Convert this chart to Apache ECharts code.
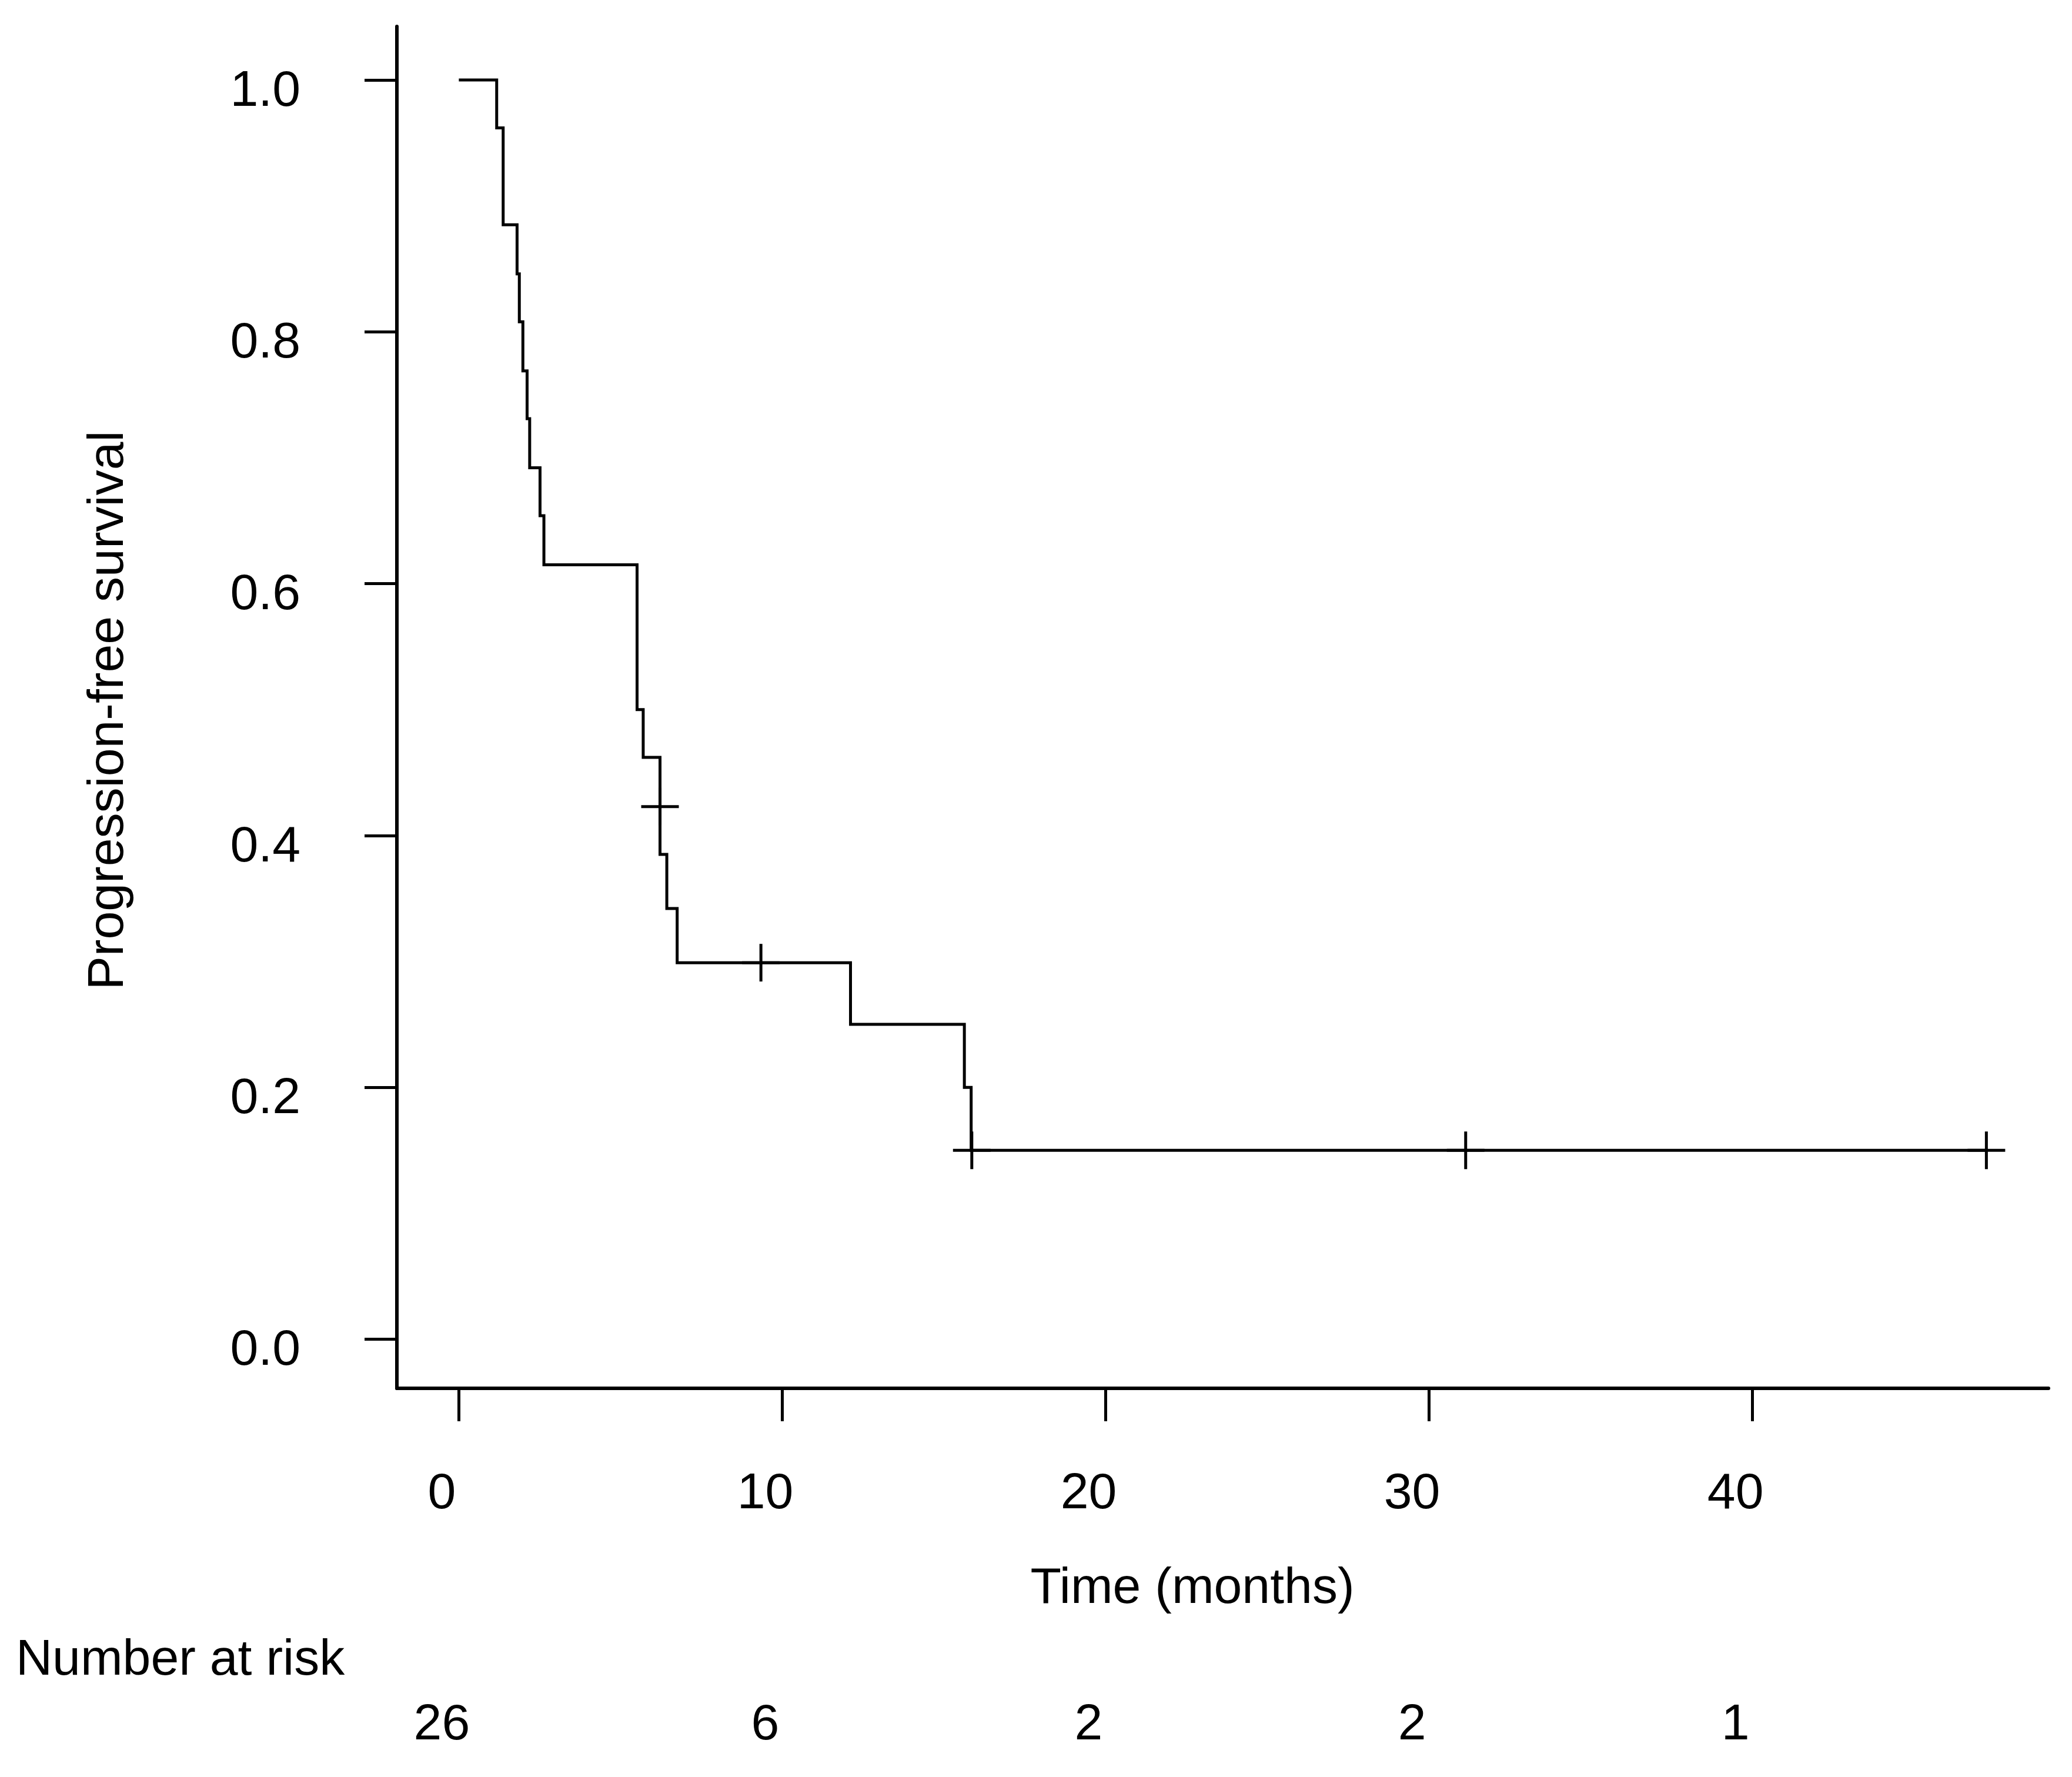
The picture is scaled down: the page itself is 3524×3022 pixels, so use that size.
<!DOCTYPE html>
<html>
<head>
<meta charset="utf-8">
<script src="https://cdn.jsdelivr.net/npm/echarts@6/dist/echarts.min.js"></script>
<style>
html,body{margin:0;padding:0;background:#fff;}
#chart{width:3524px;height:3022px;}
</style>
</head>
<body>
<div id="chart"></div>
<script>
// Kaplan-Meier step points (time in months, survival after the step)
const stepTimes = [0, 1.17, 1.37, 1.80, 1.87, 1.98, 2.11, 2.19, 2.51, 2.63, 5.51, 5.70, 6.22, 6.22, 6.43, 6.75, 12.11, 15.63, 15.84, 47.23];
const stepSurvival = [1.0, 0.962, 0.885, 0.846, 0.808, 0.769, 0.731, 0.692, 0.654, 0.615, 0.500, 0.462, 0.423, 0.385, 0.342, 0.299, 0.250, 0.200, 0.150, 0.150];
// Censored observations
const censorTimes = [6.22, 9.34, 15.86, 31.13, 47.23];
const censorSurvival = [0.423, 0.299, 0.150, 0.150, 0.150];
// Axis ticks
const xTicks = [0, 10, 20, 30, 40];
const yTicks = [0, 0.2, 0.4, 0.6, 0.8, 1.0];
// Number at risk
const riskTimes = [0, 10, 20, 30, 40];
const atRisk = [26, 6, 2, 2, 1];

const FONT = "'Liberation Sans', Arial, Helvetica, sans-serif";
const FS = 86;

const chart = echarts.init(document.getElementById('chart'), null, {renderer: 'canvas'});

const xMin = -1.916, xMax = 49.15;

const option = {
  backgroundColor: '#ffffff',
  animation: false,
  grid: {left: 675, right: 40, top: 45, bottom: 661, containLabel: false},
  xAxis: [
    {
      type: 'value', min: xMin, max: xMax,
      axisLine: {show: true, onZero: false, lineStyle: {color: '#000', width: 6}},
      axisTick: {show: true, customValues: xTicks, length: 56, lineStyle: {color: '#000', width: 5}},
      axisLabel: {show: true, customValues: xTicks, margin: 137, color: '#000', fontSize: FS, fontFamily: FONT,
                  padding: [0, 58, 0, 0], formatter: v => String(v)},
      splitLine: {show: false}
    },
    {
      type: 'value', min: xMin, max: xMax, position: 'bottom', offset: 393,
      axisLine: {show: false, onZero: false}, axisTick: {show: false}, splitLine: {show: false},
      axisLabel: {show: true, customValues: riskTimes, margin: 137, color: '#000', fontSize: FS, fontFamily: FONT,
                  padding: [0, 58, 0, 0],
                  formatter: v => { const i = riskTimes.indexOf(v); return i >= 0 ? String(atRisk[i]) : ''; }}
    }
  ],
  yAxis: {
    type: 'value', min: -0.039, max: 1.0425,
    axisLine: {show: true, onZero: false, lineStyle: {color: '#000', width: 6}},
    axisTick: {show: true, customValues: yTicks, length: 55, lineStyle: {color: '#000', width: 5}},
    axisLabel: {show: true, customValues: yTicks, margin: 164, color: '#000', fontSize: FS, fontFamily: FONT,
                verticalAlign: 'top', lineHeight: 40, formatter: v => v.toFixed(1)},
    splitLine: {show: false}
  },
  graphic: [
    {type: 'text', x: 185, y: 1208, rotation: Math.PI / 2,
     style: {text: 'Progression-free survival', fill: '#000', font: FS + 'px ' + FONT, textAlign: 'center', textVerticalAlign: 'middle'}},
    {type: 'text', x: 2028, y: 2702,
     style: {text: 'Time (months)', fill: '#000', font: FS + 'px ' + FONT, textAlign: 'center', textVerticalAlign: 'middle'}},
    {type: 'text', x: 27, y: 2824,
     style: {text: 'Number at risk', fill: '#000', font: FS + 'px ' + FONT, textAlign: 'left', textVerticalAlign: 'middle'}}
  ],
  series: [
    {
      type: 'line', step: 'end', xAxisIndex: 0,
      data: stepTimes.map((t, i) => [t, stepSurvival[i]]),
      showSymbol: false, symbol: 'none',
      lineStyle: {color: '#000', width: 5, join: 'miter', cap: 'butt'},
      silent: true
    },
    {
      type: 'custom', xAxisIndex: 0,
      data: censorTimes.map((t, i) => [t, censorSurvival[i]]),
      renderItem: function (params, api) {
        const p = api.coord([api.value(0), api.value(1)]);
        const h = 32;
        return {
          type: 'group',
          children: [
            {type: 'line', shape: {x1: p[0] - h, y1: p[1], x2: p[0] + h, y2: p[1]}, style: {stroke: '#000', lineWidth: 5}},
            {type: 'line', shape: {x1: p[0], y1: p[1] - h, x2: p[0], y2: p[1] + h}, style: {stroke: '#000', lineWidth: 5}}
          ]
        };
      },
      silent: true
    }
  ]
};
chart.setOption(option);
</script>
</body>
</html>
